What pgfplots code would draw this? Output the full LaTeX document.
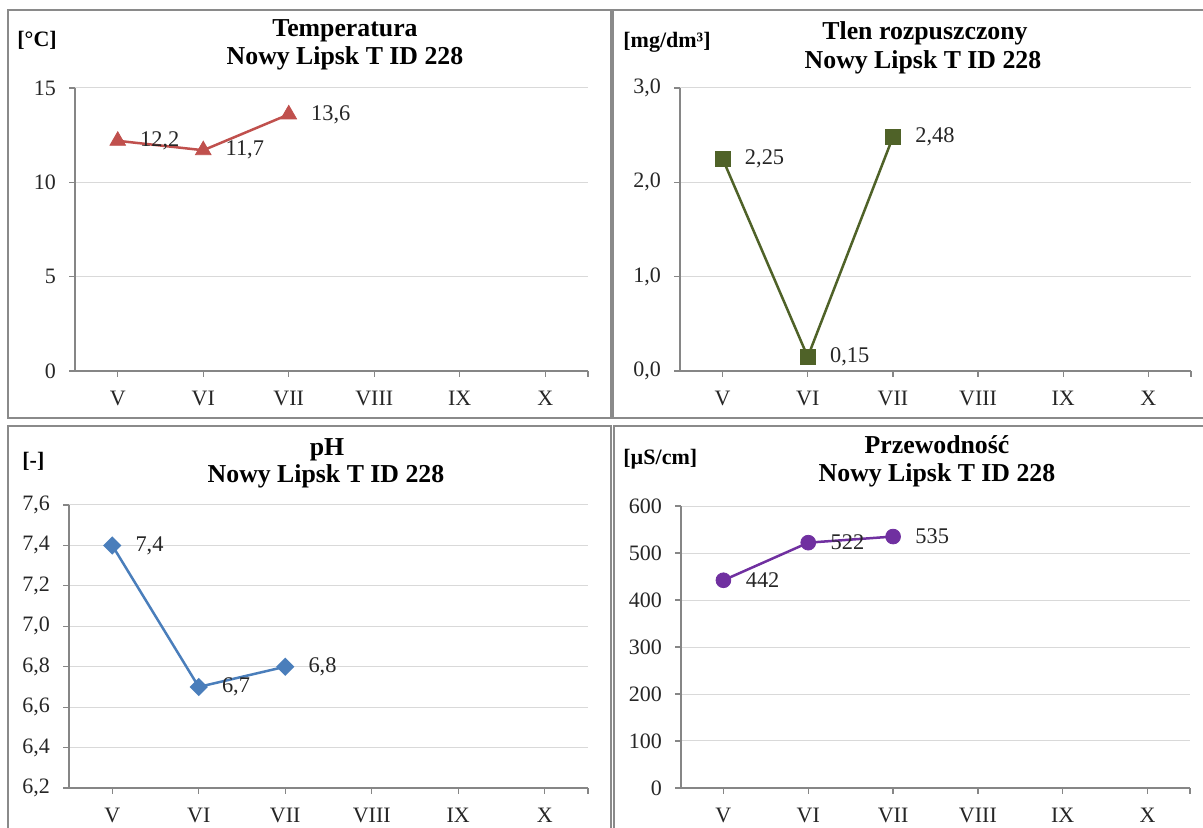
\documentclass[border=0pt]{standalone}
\usepackage{pgfplots}
\pgfplotsset{compat=1.18}
\usepackage{fontspec}
\setmainfont{Liberation Serif}
\definecolor{cred}{HTML}{C0504D}
\definecolor{cgreen}{HTML}{4F6228}
\definecolor{cblue}{HTML}{4A7EBB}
\definecolor{cpurple}{HTML}{7030A0}
\definecolor{axgray}{HTML}{868686}
\definecolor{grgray}{HTML}{D9D9D9}
\definecolor{bordergray}{HTML}{8A8A8A}
\pgfplotsset{
  /pgf/number format/assume math mode=true,
  panel/.style={
    scale only axis,
    axis lines=left,
    axis line style={-,color=axgray,line width=0.6pt},
    tick style={color=axgray,line width=0.6pt},
    tick align=outside,
    major tick length=3pt,
    ymajorgrids,
    grid style={color=grgray,line width=0.5pt},
    xmin=-0.5,xmax=5.5,
    xtick={0,1,2,3,4,5,5.5},
    xticklabels={V,VI,VII,VIII,IX,X,},
    ticklabel style={font=\fontsize{11}{13}\selectfont,color=black!85},
    xticklabel style={yshift=-3.5pt},
    yticklabel style={xshift=-3pt},
    clip=false,
    every node near coord/.append style={anchor=west,inner sep=0pt,xshift=11pt,font=\fontsize{11.2}{13}\selectfont,color=black!85},
  },
  ser/.style={line width=1.25pt,color=#1,mark options={solid,fill=#1,line width=0.4pt}},
}
\begin{document}
\begin{tikzpicture}
\useasboundingbox (0,0) rectangle (601.5pt,414pt);
\fill[white] (0,0) rectangle (601.5pt,414pt);

% Temperatura
\begin{axis}[panel,at={(37.5pt,228.5pt)},anchor=south west,width=256.5pt,height=141.5pt,
  ymin=0,ymax=15,ytick={0,5,10,15},
  nodes near coords={\pgfmathprintnumber[assume math mode=true,use comma,fixed,fixed zerofill,precision=1]{\pgfplotspointmeta}}]
\addplot[ser=cred,mark=triangle*,mark size=4.5pt] coordinates {(0,12.2) (1,11.7) (2,13.6)};
\end{axis}

% Tlen
\begin{axis}[panel,at={(340pt,228.5pt)},anchor=south west,width=255.5pt,height=141.5pt,
  ymin=0,ymax=3,ytick={0,1,2,3},
  yticklabel style={/pgf/number format/.cd,use comma,fixed,fixed zerofill,precision=1},
  nodes near coords={\pgfmathprintnumber[assume math mode=true,use comma,fixed,fixed zerofill,precision=2]{\pgfplotspointmeta}}]
\addplot[ser=cgreen,mark=square*,mark size=3.8pt] coordinates {(0,2.25) (1,0.15) (2,2.48)};
\end{axis}

% pH
\begin{axis}[panel,at={(34.5pt,20pt)},anchor=south west,width=259.5pt,height=141.5pt,
  ymin=6.2,ymax=7.6,ytick={6.2,6.4,6.6,6.8,7.0,7.2,7.4,7.6},
  yticklabel style={/pgf/number format/.cd,use comma,fixed,fixed zerofill,precision=1},
  nodes near coords={\pgfmathprintnumber[assume math mode=true,use comma,fixed,fixed zerofill,precision=1]{\pgfplotspointmeta}}]
\addplot[ser=cblue,mark=square*,mark size=2.6pt,mark options={rotate=45}] coordinates {(0,7.4) (1,6.7) (2,6.8)};
\end{axis}

% Przewodnosc
\begin{axis}[panel,at={(340.5pt,20pt)},anchor=south west,width=254.5pt,height=141pt,
  ymin=0,ymax=600,ytick={0,100,...,600},
  nodes near coords={\pgfmathprintnumber[assume math mode=true,fixed,precision=0]{\pgfplotspointmeta}}]
\addplot[ser=cpurple,mark=*,mark size=3.7pt] coordinates {(0,442) (1,522) (2,535)};
\end{axis}

\begin{scope}[x=0.5pt,y=-0.5pt,shift={(0,414pt)}]
\tikzset{ttl/.style={anchor=base,font=\bfseries\fontsize{12.9}{14}\selectfont,inner sep=0pt},
         unit/.style={anchor=base west,font=\bfseries\fontsize{11}{13}\selectfont,inner sep=0pt}}
\node[ttl] at (345,37) {Temperatura};
\node[ttl] at (345,65) {Nowy Lipsk T ID 228};
\node[unit] at (17,47) {[°C]};
\node[ttl] at (925,40) {Tlen rozpuszczony};
\node[ttl] at (923,69) {Nowy Lipsk T ID 228};
\node[unit] at (623,48) {[mg/dm³]};
\node[ttl] at (327,456) {pH};
\node[ttl] at (326,483) {Nowy Lipsk T ID 228};
\node[unit] at (22,468) {[-]};
\node[ttl] at (937,454) {Przewodność};
\node[ttl] at (937,482) {Nowy Lipsk T ID 228};
\node[unit] at (623,465) {[µS/cm]};
\draw[bordergray,line width=1.35pt] (8,10) rectangle (611,418);
\draw[bordergray,line width=1.35pt] (613,10) rectangle (1215,418);
\draw[bordergray,line width=1.35pt] (8,426) rectangle (611,840);
\draw[bordergray,line width=1.35pt] (614,426) rectangle (1215,840);
\end{scope}
\end{tikzpicture}
\end{document}
